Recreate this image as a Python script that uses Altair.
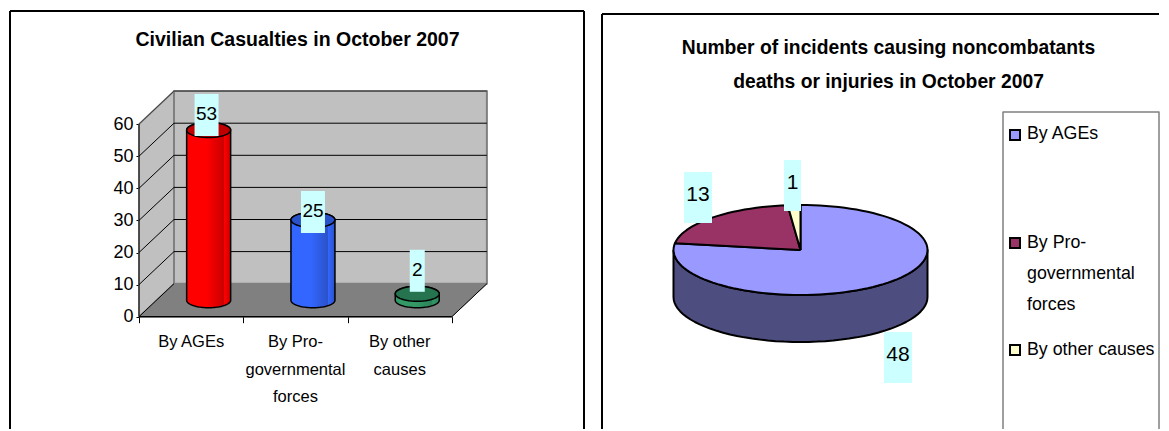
import math
import altair as alt
import pandas as pd

categories = ["By AGEs", "By Pro-\ngovernmental\nforces", "By other\ncauses"]
casualties = [53, 25, 2]
incident_labels = ["By AGEs", "By Pro-\ngovernmental\nforces", "By other causes"]
incidents = [48, 13, 1]
y_ticks = [0, 10, 20, 30, 40, 50, 60]
left_title = "Civilian Casualties in October 2007"
right_title = ["Number of incidents causing noncombatants", "deaths or injuries in October 2007"]

# ---------- layout / style ----------
FONT = "Liberation Sans, Arial"
BOLD = "Liberation Sans, Arial"
LW, RW, H = 578, 561, 423
SPACING = 14
RX0 = 8 + LW + SPACING      # page x of the right panel
OX, OY = 131.0, 308.7       # left panel: plot pixel of the (0,0) corner
KX, KY = 104.3, 3.21        # pixels per category / per value
DX, DY = 35 / KX, 33 / KY   # oblique depth in data units
x_scale = alt.Scale(domain=[-OX / KX, (LW - OX) / KX], range=[0, LW], nice=False, zero=False)
y_scale = alt.Scale(domain=[-(H - OY) / KY, OY / KY], range=[H, 0], nice=False, zero=False)
BAR_COLORS = [("#FF0000", "#C00000", "#CC0000"), ("#3366FF", "#2A52C8", "#2A52C8"), ("#339966", "#267350", "#2C8259")]
X_AXIS = alt.Axis(values=[0, 1, 2, 3], labels=False, domain=False, grid=False, title="",
                  tickColor="#000000", tickSize=6, offset=-(H - OY))
Y_AXIS = alt.Axis(values=y_ticks, domain=False, grid=False, title="", tickColor="#000000", tickSize=3,
                  labelFont=FONT, labelFontSize=18, labelColor="#000000", labelPadding=3, offset=-OX)
lab_x = alt.X("x:Q", scale=x_scale, axis=X_AXIS)
lab_y = alt.Y("y:Q", scale=y_scale, axis=Y_AXIS)


def poly(points, fill=None, stroke="#000000", sw=1.0, xe=lab_x, ye=lab_y):
    df = pd.DataFrame([{"x": a, "y": b, "i": n} for n, (a, b) in enumerate(points)])
    kw = {"strokeWidth": sw, "interpolate": "linear", "strokeJoin": "round"}
    if fill is not None:
        kw["fill"] = fill
    return alt.Chart(df).mark_line(stroke=stroke, **kw).encode(x=xe, y=ye, order="i:Q")


def ell(cx, cy, rx, ry, a0, a1, n=48):
    return [(cx + rx * math.cos(math.radians(a0 + (a1 - a0) * t / n)),
             cy + ry * math.sin(math.radians(a0 + (a1 - a0) * t / n))) for t in range(n + 1)]


# ---------- left panel ----------
layers = []
WALL = "#C0C0C0"
EDGE = "#808080"
layers.append(poly([(0, 0), (DX, DY), (DX, 60 + DY), (0, 60), (0, 0)], WALL, EDGE, 1.5))
layers.append(poly([(DX, DY), (3 + DX, DY), (3 + DX, 60 + DY), (DX, 60 + DY), (DX, DY)], WALL, EDGE, 2))
for t in y_ticks[1:]:
    layers.append(poly([(0, t), (DX, t + DY), (3 + DX, t + DY)], None, "#000000" if t < 60 else "#404040", 1))
layers.append(poly([(0, 0), (DX, DY), (3 + DX, DY), (3, 0), (0, 0)], "#808080", "#808080", 1))
layers.append(poly([(0, 0), (3, 0)], None, "#000000", 1.5))
layers.append(poly([(3, 0), (3 + DX, DY)], None, "#000000", 1))
layers.append(poly([(0, 0), (0, 60)], None, "#000000", 1))
layers.append(poly([(0, 0), (DX, DY)], None, "#000000", 1))

RX = 22 / KX
RY = 7.5 / KY
for i, v in enumerate(casualties):
    cx = i + 0.5 + DX / 2
    cy = DY / 2
    side, top, dark = BAR_COLORS[i]
    grad = alt.Gradient(gradient="linear", x1=0, x2=1, y1=0, y2=0, stops=[
        alt.GradientStop(offset=0, color=side), alt.GradientStop(offset=0.45, color=side),
        alt.GradientStop(offset=0.84, color=dark), alt.GradientStop(offset=0.85, color=side),
        alt.GradientStop(offset=1, color=dark)])
    body = ell(cx, cy, RX, RY, 180, 360) + ell(cx, cy + v, RX, RY, 0, 180)
    layers.append(poly(body + body[:1], grad, "#000000", 1.5))
    cap = ell(cx, cy + v, RX, RY, 0, 360)
    layers.append(poly(cap, top, "#000000", 1.5))

label_lift = [15, 8, 23]
bar_labels = pd.DataFrame({
    "x": [i + 0.5 + DX / 2 - 0.02 * (i == 0) for i in range(3)],
    "y": [DY / 2 + v + lift / KY for v, lift in zip(casualties, label_lift)],
    "label": [str(v) for v in casualties],
})
for w, sub in ((24, bar_labels[bar_labels.label.str.len() == 2]), (15, bar_labels[bar_labels.label.str.len() == 1])):
    layers.append(alt.Chart(sub).mark_rect(width=w, height=42, color="#CCFFFF").encode(x=lab_x, y=lab_y))
layers.append(alt.Chart(bar_labels).mark_text(font=FONT, fontSize=19, color="#000000", dy=-1).encode(
    x=lab_x, y=lab_y, text="label:N"))

cat_rows = []
for i, c in enumerate(categories):
    for j, line in enumerate(c.split("\n")):
        cat_rows.append({"x": i + 0.5, "y": -(25.5 + 27.5 * j) / KY, "label": line})
layers.append(alt.Chart(pd.DataFrame(cat_rows)).mark_text(font=FONT, fontSize=16.5, color="#000000").encode(
    x=lab_x, y=lab_y, text="label:N"))

layers.append(alt.Chart(pd.DataFrame({"x": [(297.5 - 8 - OX) / KX], "y": [(OY - 32) / KY], "t": [left_title]}))
              .mark_text(font=BOLD, fontWeight="bold", fontSize=19.5, color="#000000").encode(
    x=lab_x, y=lab_y, text="t:N"))
base = alt.Chart(pd.DataFrame({"a": [0]}))
layers += [
    base.mark_rule(color="#000000", strokeWidth=2).encode(x=alt.value(2), y=alt.value(3), y2=alt.value(H - 2)),
    base.mark_rule(color="#000000", strokeWidth=2).encode(x=alt.value(2), x2=alt.value(LW - 2), y=alt.value(3)),
    base.mark_rule(color="#000000", strokeWidth=2).encode(x=alt.value(LW - 2), y=alt.value(3), y2=alt.value(H - 2)),
]
left = alt.layer(*layers).properties(width=LW, height=H)

# ---------- right panel ----------
rx_scale = alt.Scale(domain=[0, RW], range=[0, RW], nice=False, zero=False)
ry_scale = alt.Scale(domain=[H, 0], range=[H, 0], nice=False, zero=False)
rlx = alt.X("x:Q", scale=rx_scale, axis=None)
rly = alt.Y("y:Q", scale=ry_scale, axis=None)
PX, PY, PRX, PRY, PD = 800.5 - RX0, 250 - 8, 127, 45, 47
slice_colors = ["#9999FF", "#993366", "#FFFFCC"]
SIDE = "#4D4D80"


def rpoly(points, fill=None, stroke="#000000", sw=1.5):
    return poly(points, fill, stroke, sw, rlx, rly)


r = []
side_pts = ell(PX, PY, PRX, PRY, 180, 0) + ell(PX, PY + PD, PRX, PRY, 0, 180)
r.append(rpoly(side_pts + side_pts[:1], SIDE, "#000000", 2))
total = sum(incidents)
a = -90.0
for v, col in zip(incidents, slice_colors):
    b = a + v / total * 360
    pts = [(PX, PY)] + ell(PX, PY, PRX, PRY, a, b, n=max(4, int(v * 2))) + [(PX, PY)]
    r.append(rpoly(pts, col, "#000000", 2))
    a = b

pie_labels = pd.DataFrame({
    "x": [898 - RX0, 698 - RX0, 792.5 - RX0],
    "y": [357.5 - 8, 197.5 - 8, 185.5 - 8],
    "w": [28, 28, 17],
    "label": [str(v) for v in incidents],
})
for w in (28, 17):
    r.append(alt.Chart(pie_labels[pie_labels.w == w]).mark_rect(width=w, height=51, color="#CCFFFF").encode(x=rlx, y=rly))
r.append(alt.Chart(pie_labels).mark_text(font=FONT, fontSize=21, color="#000000", dy=-3).encode(x=rlx, y=rly, text="label:N"))

title_df = pd.DataFrame({"x": [888.5 - RX0] * 2, "y": [47.5 - 8, 81.5 - 8], "t": right_title})
r.append(alt.Chart(title_df).mark_text(font=BOLD, fontWeight="bold", fontSize=19.3, color="#000000").encode(x=rlx, y=rly, text="t:N"))

r.append(rpoly([(1003 - RX0, H - 2), (1003 - RX0, 112 - 8), (RW - 2, 112 - 8), (RW - 2, H - 2)], None, "#808080", 1.5))
key_rows = pd.DataFrame({"x": [1015 - RX0] * 3, "y": [135 - 8, 243 - 8, 350 - 8], "k": incident_labels})
r.append(alt.Chart(key_rows).mark_square(size=100, stroke="#000000", strokeWidth=2, opacity=1).encode(
    x=rlx, y=rly,
    fill=alt.Fill("k:N", scale=alt.Scale(domain=incident_labels, range=slice_colors), legend=None)))
leg_rows = []
for row, lab in zip([134, 243, 350], incident_labels):
    for j, line in enumerate(lab.split("\n")):
        leg_rows.append({"x": 1027 - RX0, "y": row - 8 + j * 31, "label": line})
r.append(alt.Chart(pd.DataFrame(leg_rows)).mark_text(font=FONT, fontSize=17.8, align="left", color="#000000").encode(
    x=rlx, y=rly, text="label:N"))
base_r = alt.Chart(pd.DataFrame({"a": [0]}))
r += [
    base_r.mark_rule(color="#000000", strokeWidth=2).encode(x=alt.value(2), y=alt.value(6), y2=alt.value(H - 2)),
    base_r.mark_rule(color="#000000", strokeWidth=2).encode(x=alt.value(2), x2=alt.value(RW - 2), y=alt.value(6)),
]
right = alt.layer(*r).properties(width=RW, height=H)

chart = (
    alt.hconcat(left, right, spacing=SPACING)
    .properties(padding=0, background="#FFFFFF")
    .configure_view(stroke=None)
)
chart.save("out.html", embed_options={"renderer": "svg", "actions": False})
